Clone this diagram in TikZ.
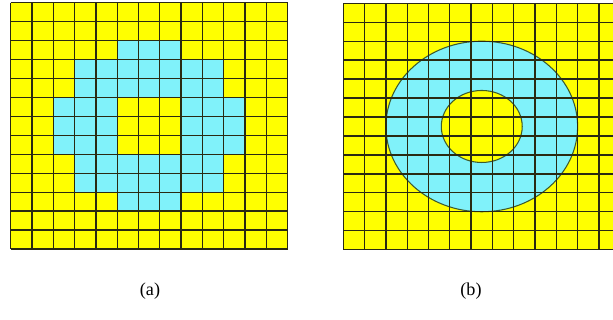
\documentclass[tikz,border=0pt]{standalone}
\usepackage{fontspec}
\setmainfont{Liberation Serif}
\usetikzlibrary{positioning}
\definecolor{cellyellow}{HTML}{FFFF00}
\definecolor{cellcyan}{HTML}{80F2FA}
\definecolor{gridink}{HTML}{2A2A12}
\definecolor{rimgreen}{HTML}{3C5A2E}

\begin{document}
\begin{tikzpicture}[x=0.03cm,y=-0.03cm,font=\fontsize{15.5}{18}\selectfont]
  \tikzset{
    gridline/.style={gridink,line width=1.15pt},
    rimline/.style={rimgreen,line width=0.9pt},
    cellunit/.style={x=0.639cm,y=-0.5685cm}
  }
  \useasboundingbox (0,0) rectangle (613,320);
  \clip (0,0) rectangle (613,320);

  % (a) pixel ring
  \begin{scope}[shift={(10.7,2.7)},cellunit]
    \fill[cellyellow] (0,0) rectangle (13,13);
    \foreach \xa/\ya/\xb/\yb in {5/2/8/3,3/3/10/5,2/5/5/8,8/5/11/8,3/8/10/10,5/10/8/11}
      \fill[cellcyan] (\xa,\ya) rectangle (\xb,\yb);
    \foreach \k in {0,...,13}{
      \draw[gridline] (\k,0) -- (\k,13);
      \draw[gridline] (0,\k) -- (13,\k);
    }
  \end{scope}

  % (b) exact ring
  \begin{scope}[shift={(343.3,3.3)},cellunit]
    \fill[cellyellow] (0,0) rectangle (13,13);
    \fill[cellcyan] (6.5,6.5) circle [radius=4.5];
    \fill[cellyellow] (6.5,6.5) circle [radius=1.9];
    \draw[rimline] (6.5,6.5) circle [radius=4.5];
    \draw[rimline] (6.5,6.5) circle [radius=1.9];
    \foreach \k in {0,...,13}{
      \draw[gridline] (\k,0) -- (\k,13);
      \draw[gridline] (0,\k) -- (13,\k);
    }
  \end{scope}

  \node (la) at (150,291) {(a)};
  \node (lb) at (471,291) {(b)};
\end{tikzpicture}
\end{document}
